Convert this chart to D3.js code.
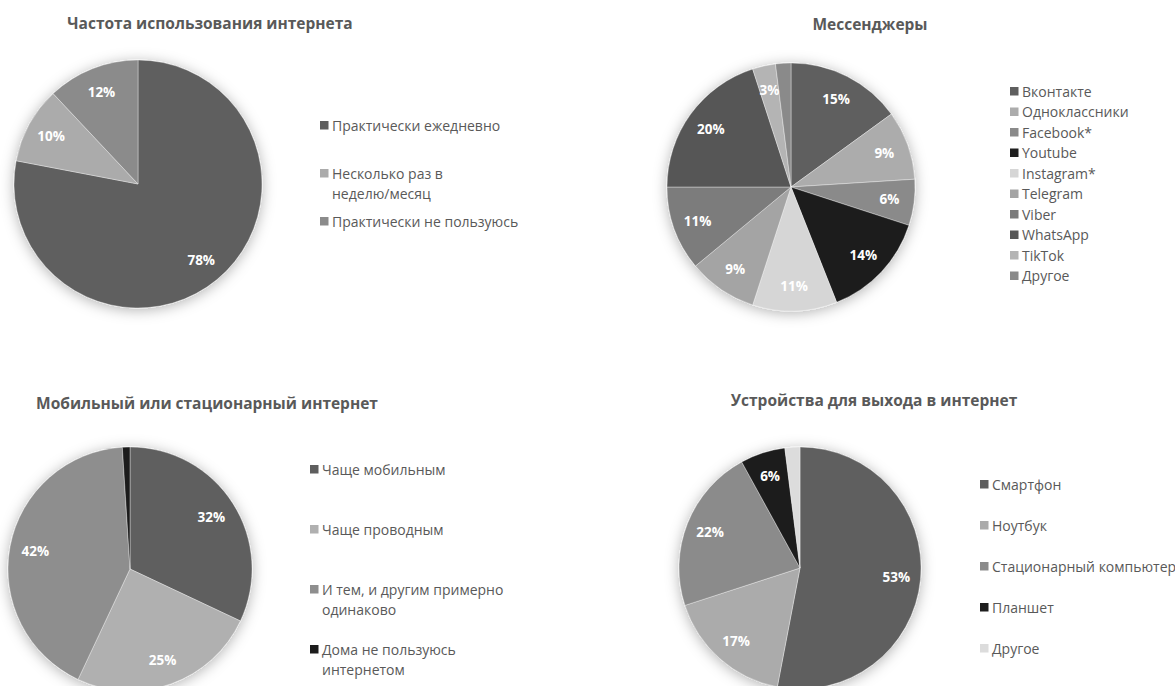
<!DOCTYPE html>
<html><head><meta charset="utf-8">
<script src="https://cdn.jsdelivr.net/npm/d3@7"></script>
<style>
html,body{margin:0;padding:0;background:#fff;}
svg{display:block;font-family:"Open Sans","Noto Sans",sans-serif;}
</style></head>
<body>
<svg id="chart" width="1175" height="686"></svg>
<script>
// ---- Data ----
const freqCategories = ["Практически ежедневно", "Несколько раз в\nнеделю/месяц", "Практически не пользуюсь"];
const freqValues = [78, 10, 12];
const freqColors = ["#5e5e5e", "#ababab", "#8b8b8b"];

const messCategories = ["Вконтакте", "Одноклассники", "Facebook*", "Youtube", "Instagram*", "Telegram", "Viber", "WhatsApp", "TikTok", "Другое"];
const messValues = [15, 9, 6, 14, 11, 9, 11, 20, 3, 2];
const messLabels = ["15%", "9%", "6%", "14%", "11%", "9%", "11%", "20%", "3%", ""];
const messColors = ["#5f5f5f", "#acacac", "#8a8a8a", "#1f1f1f", "#d6d6d6", "#a4a4a4", "#7b7b7b", "#575757", "#b4b4b4", "#8a8a8a"];

const mobCategories = ["Чаще мобильным", "Чаще проводным", "И тем, и другим примерно\nодинаково", "Дома не пользуюсь\nинтернетом"];
const mobValues = [32, 25, 42, 1];
const mobLabels = ["32%", "25%", "42%", ""];
const mobColors = ["#5e5e5e", "#b0b0b0", "#8e8e8e", "#1c1c1c"];

const devCategories = ["Смартфон", "Ноутбук", "Стационарный компьютер", "Планшет", "Другое"];
const devValues = [53, 17, 22, 6, 2];
const devLabels = ["53%", "17%", "22%", "6%", ""];
const devColors = ["#5e5e5e", "#ababab", "#8b8b8b", "#1e1e1e", "#dcdcdc"];

const titles = ["Частота использования интернета", "Мессенджеры", "Мобильный или стационарный интернет", "Устройства для выхода в интернет"];

// ---- Layout ----
const charts = [
  {title: titles[0], cats: freqCategories, vals: freqValues, labels: freqValues.map(v => v + "%"), colors: freqColors,
   cx: 138, cy: 184, r: 124, tx: 210, ty: 23, lx: 320, ly: 125, step: 48, lf: 0.8},
  {title: titles[1], cats: messCategories, vals: messValues, labels: messLabels, colors: messColors,
   cx: 791, cy: 187, r: 124, tx: 870, ty: 24, lx: 1010, ly: 91, step: 20.5, lf: 0.8},
  {title: titles[2], cats: mobCategories, vals: mobValues, labels: mobLabels, colors: mobColors,
   cx: 130, cy: 569, r: 122, tx: 207, ty: 403, lx: 310, ly: 469, step: 60, lf: 0.79},
  {title: titles[3], cats: devCategories, vals: devValues, labels: devLabels, colors: devColors,
   cx: 800, cy: 568, r: 121, tx: 874, ty: 400, lx: 980, ly: 484, step: 41, lf: 0.8}
];

const svg = d3.select("#chart");
const defs = svg.append("defs");
const f = defs.append("filter").attr("id", "shadow").attr("x", "-25%").attr("y", "-25%").attr("width", "150%").attr("height", "150%");
f.append("feDropShadow").attr("dx", 0).attr("dy", 2).attr("stdDeviation", 7)
  .attr("flood-color", "#000").attr("flood-opacity", 0.3);

const pie = d3.pie().sort(null).value(d => d);

charts.forEach(c => {
  const g = svg.append("g");
  g.append("text").attr("x", c.tx).attr("y", c.ty)
    .attr("text-anchor", "middle").attr("dominant-baseline", "central")
    .attr("font-size", 15.5).attr("font-weight", 700).attr("fill", "#595959")
    .text(c.title);

  const arcs = pie(c.vals);
  const arc = d3.arc().innerRadius(0).outerRadius(c.r);
  const labelArc = d3.arc().innerRadius(c.r * c.lf).outerRadius(c.r * c.lf);

  const pg = g.append("g").attr("transform", `translate(${c.cx},${c.cy})`);
  pg.append("g").attr("filter", "url(#shadow)")
    .selectAll("path").data(arcs).join("path")
    .attr("d", arc)
    .attr("fill", (d, i) => c.colors[i])
    .attr("stroke", "#ffffff").attr("stroke-width", 0.6).attr("stroke-opacity", 0.6);

  pg.selectAll("text.lbl").data(arcs).join("text")
    .attr("class", "lbl")
    .attr("transform", d => `translate(${labelArc.centroid(d)})`)
    .attr("text-anchor", "middle").attr("dominant-baseline", "central")
    .attr("font-size", 13.5).attr("font-weight", 700).attr("fill", "#ffffff")
    .text((d, i) => c.labels[i]);

  const lg = g.append("g");
  c.cats.forEach((cat, i) => {
    const y = c.ly + i * c.step;
    lg.append("rect").attr("x", c.lx).attr("y", y - 4).attr("width", 8.5).attr("height", 8.5)
      .attr("fill", c.colors[i]);
    cat.split("\n").forEach((ln, j) => {
      lg.append("text").attr("x", c.lx + 12).attr("y", y + j * 20)
        .attr("dominant-baseline", "central")
        .attr("font-size", 14).attr("fill", "#595959").text(ln);
    });
  });
});
</script>
</body></html>
